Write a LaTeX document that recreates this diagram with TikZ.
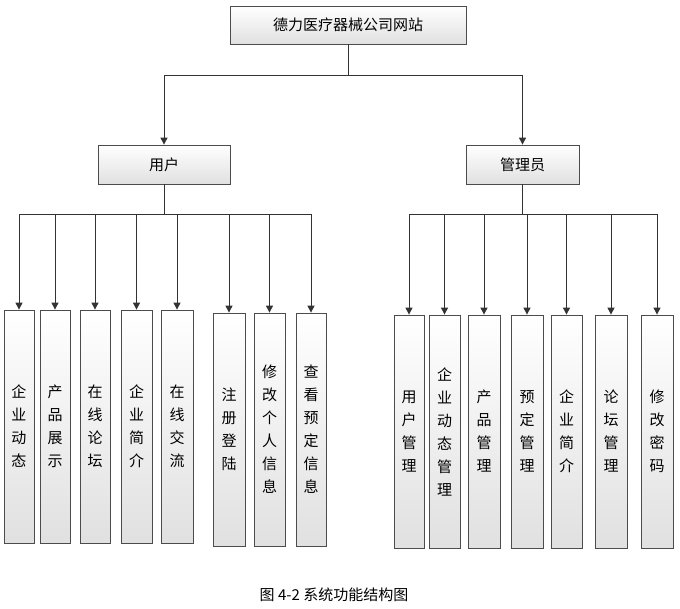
\documentclass[tikz,border=0pt]{standalone}
\usepackage{fontspec}
\setmainfont{Noto Sans CJK SC}
\usetikzlibrary{arrows.meta,shadows}
\tikzset{
 box/.style={draw=black!70,line width=0.8pt,top color=white,bottom color=black!12,drop shadow={shadow xshift=1pt,shadow yshift=-1pt,opacity=0.3},font=\fontsize{15}{23}\selectfont,align=center},
 conn/.style={draw=black!80,line width=1pt},
 arr/.style={conn,-{Triangle[length=7pt,width=7pt]}}
}
\newcommand{\bx}[6]{\node[box,minimum width=#3-#2,minimum height=#5-#4,inner sep=0pt] (#1) at ({(#2+#3)/2},{(#4+#5)/2}) {#6};}
\begin{document}
\begin{tikzpicture}[x=1pt,y=-1pt]
\useasboundingbox (0,0) rectangle (680,608);
\fill[white] (0,0) rectangle (680,608);
\bx{top}{230}{466}{6}{44}{德力医疗器械公司网站}
\bx{user}{98}{230}{145}{184}{用户}
\bx{admin}{466}{579}{145}{184}{管理员}
\bx{u1}{4}{34}{310}{543}{企\\业\\动\\态}
\bx{u2}{40}{70}{310}{543}{产\\品\\展\\示}
\bx{u3}{80}{110}{310}{543}{在\\线\\论\\坛}
\bx{u4}{121}{152}{310}{543}{企\\业\\简\\介}
\bx{u5}{161}{193}{310}{543}{在\\线\\交\\流}
\bx{u6}{213}{245}{313}{546}{注\\册\\登\\陆}
\bx{u7}{254}{285}{313}{546}{修\\改\\个\\人\\信\\息}
\bx{u8}{296}{326}{313}{546}{查\\看\\预\\定\\信\\息}
\bx{a1}{394}{424}{315}{548}{用\\户\\管\\理}
\bx{a2}{429}{460}{315}{548}{企\\业\\动\\态\\管\\理}
\bx{a3}{468}{500}{315}{548}{产\\品\\管\\理}
\bx{a4}{511}{543}{315}{548}{预\\定\\管\\理}
\bx{a5}{551}{582}{315}{548}{企\\业\\简\\介}
\bx{a6}{595}{627}{315}{548}{论\\坛\\管\\理}
\bx{a7}{641}{673}{315}{548}{修\\改\\密\\码}
\coordinate (tj) at (348,75);
\draw[conn] (top.south -| tj) -- (tj);
\draw[arr] (tj) -| (user.north);
\draw[arr] (tj) -| (admin.north);
\coordinate (ub) at (user.south |- 0,214);
\draw[conn] (user.south) -- (ub);
\foreach \n in {u1,u2,u3,u4,u5,u6,u7,u8}
  \draw[arr] (ub) -| (\n.north);
\coordinate (ab) at (admin.south |- 0,214);
\draw[conn] (admin.south) -- (ab);
\foreach \n in {a1,a2,a3,a4,a5,a6,a7}
  \draw[arr] (ab) -| (\n.north);
\node[font=\fontsize{15}{17}\selectfont] (cap) at (334,595) {图 4-2 系统功能结构图};
\end{tikzpicture}
\end{document}
